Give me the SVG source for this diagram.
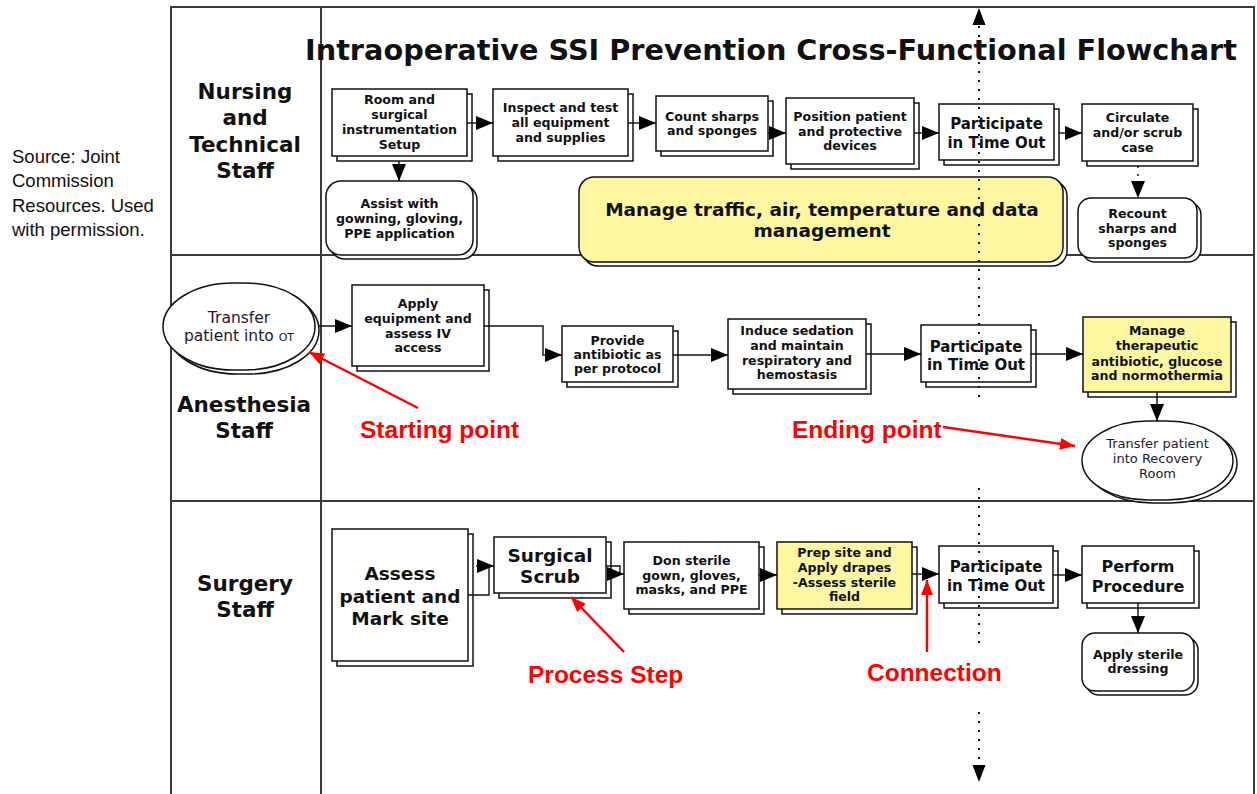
<svg xmlns="http://www.w3.org/2000/svg" width="1257" height="794" viewBox="0 0 1257 794">
  <defs>
    <style>
      .frame{fill:none;stroke:#3a3a3a;stroke-width:2}
      .bk{fill:#fff;stroke:#111;stroke-width:1.5}
      .fr{fill:#fff;stroke:#111;stroke-width:1.5}
      .yel{fill:#fcf7a0}
      .t{font-family:"DejaVu Sans",Verdana,sans-serif;font-weight:bold;font-size:12.6px;text-anchor:middle;fill:#111}
      .tr{font-family:"DejaVu Sans",Verdana,sans-serif;font-size:13px;text-anchor:middle;fill:#1a1a33}
      .t15{font-size:15px}
      .t16{font-size:16px}
      .t18{font-size:18.5px}
      .lane{font-family:"DejaVu Sans",Verdana,sans-serif;font-weight:bold;font-size:21.5px;text-anchor:middle;fill:#111}
      .title{font-family:"DejaVu Sans",Verdana,sans-serif;font-weight:bold;font-size:28px;fill:#111}
      .src{font-family:"Liberation Sans",Arial,sans-serif;font-size:18.5px;fill:#111}
      .note{font-family:"Liberation Sans",Arial,sans-serif;font-weight:bold;font-size:24.5px;fill:#f00}
      .flow{fill:none;stroke:#111;stroke-width:1.4}
      .dot{fill:none;stroke:#111;stroke-width:2;stroke-dasharray:2 7}
      .red{fill:none;stroke:#f00;stroke-width:2.5}
    </style>
    <marker id="ah" markerUnits="userSpaceOnUse" markerWidth="18" markerHeight="14" refX="17" refY="7" orient="auto">
      <path d="M0,0 L17,7 L0,14 z" fill="#000"/>
    </marker>
    <marker id="rh" markerUnits="userSpaceOnUse" markerWidth="16" markerHeight="12" refX="15" refY="6" orient="auto">
      <path d="M0,0 L15,6 L0,12 z" fill="#f00"/>
    </marker>
  </defs>

  <rect width="1257" height="794" fill="#fff"/>

  <!-- source note -->
  <g id="source">
    <text class="src" x="12" y="163">Source: Joint</text>
    <text class="src" x="12" y="187">Commission</text>
    <text class="src" x="12" y="212">Resources. Used</text>
    <text class="src" x="12" y="236">with permission.</text>
  </g>

  <!-- swimlane frame -->
  <g id="lanes">
    <path class="frame" d="M171,800 V7 H1254 V800"/>
    <path class="frame" d="M321,7 V800"/>
    <path class="frame" d="M171,255 H1254"/>
    <path class="frame" d="M171,501 H1254"/>
    <text class="lane" x="245" y="99">Nursing</text>
    <text class="lane" x="245" y="125">and</text>
    <text class="lane" x="245" y="152">Technical</text>
    <text class="lane" x="245" y="178">Staff</text>
    <text class="lane" x="244" y="412">Anesthesia</text>
    <text class="lane" x="244" y="438">Staff</text>
    <text class="lane" x="245" y="591">Surgery</text>
    <text class="lane" x="245" y="617">Staff</text>
  </g>

  <text class="title" x="305" y="60" textLength="932" lengthAdjust="spacingAndGlyphs">Intraoperative SSI Prevention Cross-Functional Flowchart</text>

  <!-- Nursing and Technical Staff -->
  <g id="room-setup">
    <rect class="bk" x="337" y="94" width="135" height="67"/>
    <rect class="fr" x="332" y="89" width="135" height="67"/>
    <text class="t" x="399.5" y="104">Room and</text>
    <text class="t" x="399.5" y="119">surgical</text>
    <text class="t" x="399.5" y="134">instrumentation</text>
    <text class="t" x="399.5" y="149">Setup</text>
  </g>
  <g id="inspect-equipment">
    <rect class="bk" x="498" y="94" width="135" height="67"/>
    <rect class="fr" x="493" y="89" width="135" height="67"/>
    <text class="t" x="560.5" y="112">Inspect and test</text>
    <text class="t" x="560.5" y="127">all equipment</text>
    <text class="t" x="560.5" y="142">and supplies</text>
  </g>
  <g id="count-sharps">
    <rect class="bk" x="661" y="101" width="112" height="55"/>
    <rect class="fr" x="656" y="96" width="112" height="55"/>
    <text class="t" x="712" y="121">Count sharps</text>
    <text class="t" x="712" y="135">and sponges</text>
  </g>
  <g id="position-patient">
    <rect class="bk" x="791" y="103" width="128" height="66"/>
    <rect class="fr" x="786" y="98" width="128" height="66"/>
    <text class="t" x="850" y="121">Position patient</text>
    <text class="t" x="850" y="135.5">and protective</text>
    <text class="t" x="850" y="150">devices</text>
  </g>
  <g id="time-out-nursing">
    <rect class="bk" x="944" y="109" width="115" height="56"/>
    <rect class="fr" x="939" y="104" width="115" height="56"/>
    <text class="t t15" x="996.5" y="129">Participate</text>
    <text class="t t15" x="996.5" y="148">in Time Out</text>
  </g>
  <g id="circulate-scrub">
    <rect class="bk" x="1087" y="109" width="111" height="57"/>
    <rect class="fr" x="1082" y="104" width="111" height="57"/>
    <text class="t" x="1137.5" y="122">Circulate</text>
    <text class="t" x="1137.5" y="137">and/or scrub</text>
    <text class="t" x="1137.5" y="152">case</text>
  </g>
  <g id="recount-sharps">
    <rect class="bk" x="1082" y="202" width="119" height="60" rx="13"/>
    <rect class="fr" x="1078" y="198" width="119" height="60" rx="13"/>
    <text class="t" x="1137.5" y="218">Recount</text>
    <text class="t" x="1137.5" y="233">sharps and</text>
    <text class="t" x="1137.5" y="247">sponges</text>
  </g>
  <g id="assist-gowning">
    <rect class="bk" x="330" y="185" width="147" height="74" rx="15"/>
    <rect class="fr" x="326" y="181" width="147" height="74" rx="15"/>
    <text class="t" x="399.5" y="208">Assist with</text>
    <text class="t" x="399.5" y="223">gowning, gloving,</text>
    <text class="t" x="399.5" y="238">PPE application</text>
  </g>
  <g id="manage-traffic">
    <rect class="bk" x="583" y="181" width="484" height="85" rx="15"/>
    <rect class="fr yel" x="579" y="177" width="484" height="85" rx="15"/>
    <text class="t t18" x="822" y="216">Manage traffic, air, temperature and data</text>
    <text class="t t18" x="822" y="237">management</text>
  </g>

  <!-- Anesthesia Staff -->
  <g id="transfer-into-ot">
    <rect class="bk" x="167" y="287" width="152" height="87" rx="70" ry="43.5"/>
    <rect class="fr" x="163" y="283" width="152" height="87" rx="70" ry="43.5"/>
    <text class="tr" x="239" y="323" style="font-size:15.5px">Transfer</text>
    <text class="tr" x="239" y="341" style="font-size:15.5px">patient into <tspan style="font-size:11px">OT</tspan></text>
  </g>
  <g id="apply-equipment">
    <rect class="bk" x="357" y="290" width="132" height="81"/>
    <rect class="fr" x="352" y="285" width="132" height="81"/>
    <text class="t" x="418" y="308">Apply</text>
    <text class="t" x="418" y="323">equipment and</text>
    <text class="t" x="418" y="338">assess IV</text>
    <text class="t" x="418" y="352">access</text>
  </g>
  <g id="provide-antibiotic">
    <rect class="bk" x="567" y="331" width="111" height="56"/>
    <rect class="fr" x="562" y="326" width="111" height="56"/>
    <text class="t" x="617.5" y="345">Provide</text>
    <text class="t" x="617.5" y="359">antibiotic as</text>
    <text class="t" x="617.5" y="373">per protocol</text>
  </g>
  <g id="induce-sedation">
    <rect class="bk" x="733" y="324" width="138" height="70"/>
    <rect class="fr" x="728" y="319" width="138" height="70"/>
    <text class="t" x="797" y="335">Induce sedation</text>
    <text class="t" x="797" y="350">and maintain</text>
    <text class="t" x="797" y="365">respiratory and</text>
    <text class="t" x="797" y="379">hemostasis</text>
  </g>
  <g id="time-out-anesthesia">
    <rect class="bk" x="926" y="330" width="110" height="57"/>
    <rect class="fr" x="921" y="325" width="110" height="57"/>
    <text class="t t15" x="976" y="352">Participate</text>
    <text class="t t15" x="976" y="370">in Time Out</text>
  </g>
  <g id="manage-therapeutic">
    <rect class="bk" x="1088" y="322" width="148" height="75"/>
    <rect class="fr yel" x="1083" y="317" width="148" height="75"/>
    <text class="t" x="1157" y="335">Manage</text>
    <text class="t" x="1157" y="350">therapeutic</text>
    <text class="t" x="1157" y="366">antibiotic, glucose</text>
    <text class="t" x="1157" y="380">and normothermia</text>
  </g>
  <g id="transfer-recovery">
    <rect class="bk" x="1086" y="424" width="151" height="79" rx="66" ry="39.5"/>
    <rect class="fr" x="1082" y="421" width="151" height="79" rx="66" ry="39.5"/>
    <text class="tr" x="1157.5" y="448">Transfer patient</text>
    <text class="tr" x="1157.5" y="463">into Recovery</text>
    <text class="tr" x="1157.5" y="478">Room</text>
  </g>

  <!-- Surgery Staff -->
  <g id="assess-patient">
    <rect class="bk" x="337" y="534" width="136" height="132"/>
    <rect class="fr" x="332" y="529" width="136" height="132"/>
    <text class="t t18" x="400" y="580">Assess</text>
    <text class="t t18" x="400" y="603">patient and</text>
    <text class="t t18" x="400" y="625">Mark site</text>
  </g>
  <g id="surgical-scrub">
    <rect class="bk" x="499" y="542" width="112" height="56"/>
    <rect class="fr" x="494" y="537" width="112" height="56"/>
    <text class="t t18" x="550" y="562">Surgical</text>
    <text class="t t18" x="550" y="583">Scrub</text>
  </g>
  <g id="don-sterile">
    <rect class="bk" x="629" y="547" width="135" height="67"/>
    <rect class="fr" x="624" y="542" width="135" height="67"/>
    <text class="t" x="691.5" y="565">Don sterile</text>
    <text class="t" x="691.5" y="580">gown, gloves,</text>
    <text class="t" x="691.5" y="594">masks, and PPE</text>
  </g>
  <g id="prep-site">
    <rect class="bk" x="782" y="547" width="135" height="67"/>
    <rect class="fr yel" x="777" y="542" width="135" height="67"/>
    <text class="t" x="844.5" y="557">Prep site and</text>
    <text class="t" x="844.5" y="572">Apply drapes</text>
    <text class="t" x="844.5" y="587">-Assess sterile</text>
    <text class="t" x="844.5" y="601">field</text>
  </g>
  <g id="time-out-surgery">
    <rect class="bk" x="944" y="551" width="114" height="57"/>
    <rect class="fr" x="939" y="546" width="114" height="57"/>
    <text class="t t15" x="996" y="572">Participate</text>
    <text class="t t15" x="996" y="591">in Time Out</text>
  </g>
  <g id="perform-procedure">
    <rect class="bk" x="1087" y="551" width="112" height="57"/>
    <rect class="fr" x="1082" y="546" width="112" height="57"/>
    <text class="t t16" x="1138" y="572">Perform</text>
    <text class="t t16" x="1138" y="592">Procedure</text>
  </g>
  <g id="sterile-dressing">
    <rect class="bk" x="1086" y="637" width="112" height="58" rx="13"/>
    <rect class="fr" x="1082" y="633" width="112" height="58" rx="13"/>
    <text class="t" x="1138" y="659">Apply sterile</text>
    <text class="t" x="1138" y="673">dressing</text>
  </g>

  <!-- flow connectors -->
  <g id="connectors">
    <path class="flow" d="M467,123 H493" marker-end="url(#ah)"/>
    <path class="flow" d="M628,123 H656" marker-end="url(#ah)"/>
    <path class="flow" d="M768,133 H786" marker-end="url(#ah)"/>
    <path class="flow" d="M914,133 H939" marker-end="url(#ah)"/>
    <path class="flow" d="M1059,133 H1082" marker-end="url(#ah)"/>
    <path class="flow" d="M399,161 V181" marker-end="url(#ah)"/>
    <path class="flow" d="M1138,166 V198" stroke-dasharray="2 6" marker-end="url(#ah)"/>

    <path class="flow" d="M319,326 H352" marker-end="url(#ah)"/>
    <path class="flow" d="M484,326 H543 V355 H562" marker-end="url(#ah)"/>
    <path class="flow" d="M673,355 H728" marker-end="url(#ah)"/>
    <path class="flow" d="M866,354 H921" marker-end="url(#ah)"/>
    <path class="flow" d="M1031,354 H1083" marker-end="url(#ah)"/>
    <path class="flow" d="M1157,392 V421" marker-end="url(#ah)"/>

    <path class="flow" d="M468,595 H489 V566"/>
    <path class="flow" d="M476,566 H494" marker-end="url(#ah)"/>
    <path class="flow" d="M606,566 H620 V574"/>
    <path class="flow" d="M608,574 H624" marker-end="url(#ah)"/>
    <path class="flow" d="M759,575 H777" marker-end="url(#ah)"/>
    <path class="flow" d="M912,574 H939" marker-end="url(#ah)"/>
    <path class="flow" d="M1053,575 H1082" marker-end="url(#ah)"/>
    <path class="flow" d="M1138,603 V633" marker-end="url(#ah)"/>

    <!-- dotted time-out axis -->
    <path class="dot" d="M979,26 V402 M979,488 V650 M979,712 V764"/>
    <path d="M979,8 L985.5,25 L972.5,25 z" fill="#000"/>
    <path d="M979,782 L985.5,765 L972.5,765 z" fill="#000"/>
  </g>

  <!-- callouts -->
  <g id="callouts">
    <path class="red" d="M418,408 L309,352" marker-end="url(#rh)"/>
    <text class="note" x="360" y="438">Starting point</text>
    <path class="red" d="M943,427 L1075,446" marker-end="url(#rh)"/>
    <text class="note" x="792" y="438">Ending point</text>
    <path class="red" d="M624,652 L571,597" marker-end="url(#rh)"/>
    <text class="note" x="528" y="683">Process Step</text>
    <path class="red" d="M927,652 V580" marker-end="url(#rh)"/>
    <text class="note" x="867" y="681">Connection</text>
  </g>
</svg>
